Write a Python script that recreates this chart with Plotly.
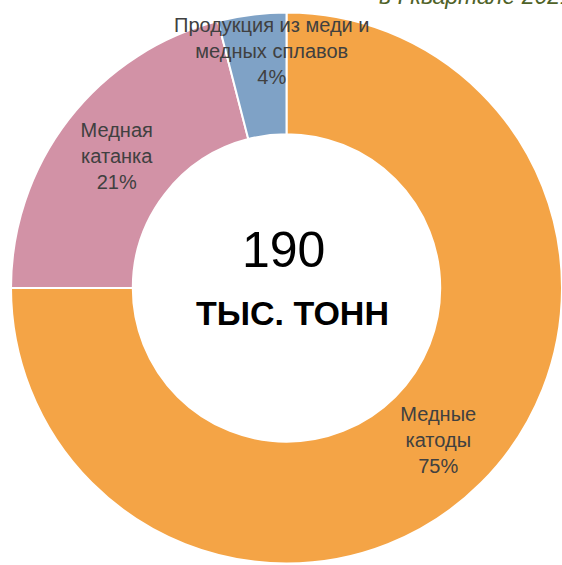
import plotly.graph_objects as go

labels = ['Медные<br>катоды', 'Медная<br>катанка', 'Продукция из меди и<br>медных сплавов']
values = [75, 21, 4]
colors = ['#F4A446', '#D292A6', '#7FA2C6']
total_text = '190'
unit_text = 'ТЫС. ТОНН'
header_text = 'в I квартале 2021 г.'

W, H = 562, 565
FONT = 'Liberation Sans, Arial, sans-serif'

fig = go.Figure()
fig.add_trace(go.Pie(
    labels=labels,
    values=values,
    hole=0.558,
    sort=False,
    direction='clockwise',
    rotation=0,
    marker=dict(colors=colors, line=dict(color='white', width=2)),
    texttemplate=['%{label}<br>%{percent:.0%}', '%{label}<br>%{percent:.0%}', ''],
    textposition='inside',
    insidetextorientation='horizontal',
    textfont=dict(family=FONT, size=20, color='#404040'),
    showlegend=False,
    domain=dict(x=[0.0196, 1.0], y=[0.0018, 0.9788]),
))

# small slice label sits above the ring
fig.add_annotation(
    x=272 / W, y=1 - 51 / H, xref='paper', yref='paper',
    text=f"{labels[2]}<br>{values[2]}%", showarrow=False,
    font=dict(family=FONT, size=20, color='#404040'),
    xanchor='center', yanchor='middle',
)
fig.add_annotation(
    x=283 / W, y=1 - 250 / H, xref='paper', yref='paper',
    text=total_text, showarrow=False,
    font=dict(family=FONT, size=50, color='#000000'),
    xanchor='center', yanchor='middle',
)
fig.add_annotation(
    x=292 / W, y=1 - 313 / H, xref='paper', yref='paper',
    text=f"<b>{unit_text}</b>", showarrow=False,
    font=dict(family=FONT, size=34, color='#000000'),
    xanchor='center', yanchor='middle',
)
# header line above the chart, mostly cut off by the top edge
fig.add_annotation(
    x=377 / W, y=1 - 11 / H, xref='paper', yref='paper',
    text=f"<i>{header_text}</i>", showarrow=False,
    font=dict(family=FONT, size=23, color='#4F6228'),
    xanchor='left', yanchor='bottom',
)

fig.update_layout(
    width=W, height=H,
    margin=dict(l=0, r=0, t=0, b=0),
    paper_bgcolor='white',
    plot_bgcolor='white',
)

fig.write_html("out.html", config={'displayModeBar': False},
               post_script="document.body.style.margin='0';")
